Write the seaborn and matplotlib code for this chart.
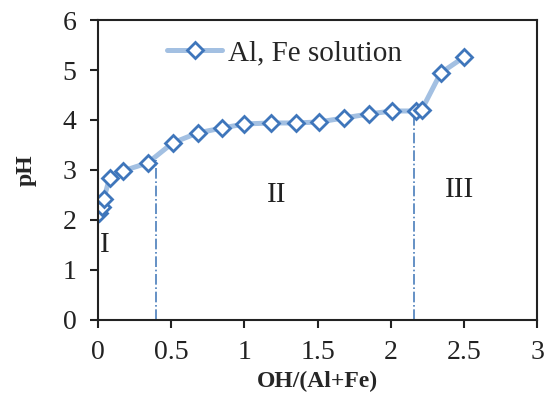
import pandas as pd
import matplotlib.pyplot as plt
import seaborn as sns
import numpy as np

# data
oh_ratio = [0.01, 0.03, 0.04, 0.08, 0.17, 0.34, 0.51, 0.68, 0.85, 1.0, 1.18, 1.35,
            1.51, 1.68, 1.85, 2.01, 2.17, 2.21, 2.34, 2.5]
ph = [2.14, 2.26, 2.42, 2.84, 2.98, 3.14, 3.54, 3.74, 3.84, 3.92, 3.94, 3.94,
      3.96, 4.04, 4.12, 4.18, 4.18, 4.2, 4.94, 5.26]
boundary_x = [0.4, 2.16]
boundary_top = [3.2, 4.2]
region_labels = ["I", "II", "III"]
region_x = [0.05, 1.22, 2.47]
region_y = [1.5, 2.5, 2.6]
x_ticks = [0, 0.5, 1, 1.5, 2, 2.5, 3]
x_tick_labels = ['0', '0.5', '1', '1.5', '2', '2.5', '3']
y_ticks = [0, 1, 2, 3, 4, 5, 6]

df = pd.DataFrame({"OH/(Al+Fe)": oh_ratio, "pH": ph})

sns.set_style("ticks")
plt.rcParams['font.family'] = ['Liberation Serif', 'DejaVu Serif']
plt.rcParams['axes.linewidth'] = 1.5
plt.rcParams['axes.edgecolor'] = '#222222'

fig, ax = plt.subplots(figsize=(5.5, 4.09), dpi=100)
sns.lineplot(data=df, x="OH/(Al+Fe)", y="pH", ax=ax, color='#a3c0e2', linewidth=3.6,
             marker='D', markersize=8, markerfacecolor='white',
             markeredgecolor='#3f76bb', markeredgewidth=2, label='Al, Fe solution')

# boundaries between the three regions
for bx, bt in zip(boundary_x, boundary_top):
    ax.plot([bx, bx], [0, bt], color='#4a7ebb', linestyle='-.', linewidth=1.2, zorder=1)

for lab, lx, ly in zip(region_labels, region_x, region_y):
    ax.text(lx, ly, lab, fontsize=21, ha='center', va='center', color='#222222')

ax.set_xlim(0, 3)
ax.set_ylim(0, 6)
ax.set_xticks(x_ticks)
ax.set_xticklabels(x_tick_labels)
ax.set_yticks(y_ticks)
ax.tick_params(labelsize=20, direction='out', length=5.5, width=1.5, colors='#222222')
ax.tick_params(axis='x', pad=9)
ax.tick_params(axis='y', pad=10)
ax.set_xlabel('OH/(Al+Fe)', fontsize=17, fontweight='bold')
ax.set_ylabel('pH', fontsize=17, fontweight='bold')
ax.xaxis.set_label_coords(0.5, -0.17)
ax.yaxis.set_label_coords(-0.14, 0.5)

ax.legend(loc='center left', bbox_to_anchor=(0.157, 0.89), frameon=False, fontsize=21,
          handlelength=1.9, handletextpad=0.2, borderpad=0, borderaxespad=0)

fig.subplots_adjust(left=0.178, right=0.977, top=0.951, bottom=0.218)
plt.savefig("out.png", dpi=100)
